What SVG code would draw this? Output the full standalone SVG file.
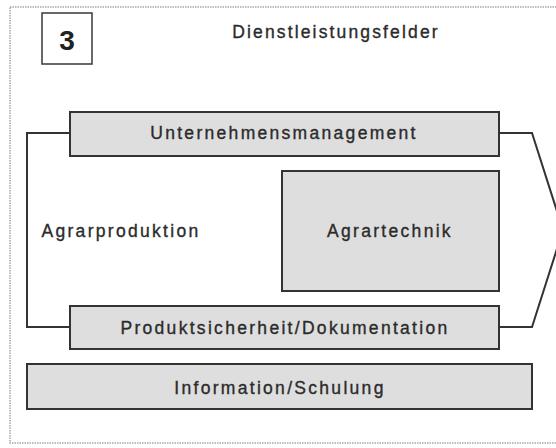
<svg xmlns="http://www.w3.org/2000/svg" width="556" height="448" viewBox="0 0 556 448">
  <style>
    .box { fill: #dedede; stroke: #333; stroke-width: 2; }
    .lbl { font-family: "Liberation Sans", Arial, sans-serif; font-size: 17.5px; fill: #2b2b2b; stroke: #2b2b2b; stroke-width: 0.35; text-anchor: middle; letter-spacing: 2.3px; }
    .wire { fill: none; stroke: #333; stroke-width: 2; stroke-linejoin: miter; }
  </style>
  <rect width="556" height="448" fill="#ffffff"/>
  <!-- page frame -->
  <rect x="10" y="7" width="560" height="436" fill="none" stroke="#a8a8a8" stroke-width="1.5" stroke-dasharray="1.5 1"/>

  <g id="number">
    <rect x="42" y="13" width="50" height="51" fill="#fff" stroke="#444" stroke-width="1.6"/>
    <text x="67" y="50" font-family="Liberation Sans, Arial, sans-serif" font-size="28" font-weight="bold" fill="#222" text-anchor="middle">3</text>
  </g>

  <g id="title">
    <text x="336" y="38" class="lbl" style="letter-spacing:2.15px">Dienstleistungsfelder</text>
  </g>

  <g id="connectors">
    <polyline class="wire" points="70,133 27,133 27,327 70,327"/>
    <polyline class="wire" points="499,133 532,133 563,230 532,327 499,327"/>
  </g>

  <g id="unternehmensmanagement">
    <rect class="box" x="70" y="112" width="429" height="44"/>
    <text class="lbl" x="284" y="139">Unternehmensmanagement</text>
  </g>

  <g id="agrarproduktion">
    <text class="lbl" x="121" y="237">Agrarproduktion</text>
  </g>

  <g id="agrartechnik">
    <rect class="box" x="282" y="171" width="217" height="120"/>
    <text class="lbl" x="390" y="237">Agrartechnik</text>
  </g>

  <g id="produktsicherheit">
    <rect class="box" x="70" y="306" width="429" height="43"/>
    <text class="lbl" x="285" y="334">Produktsicherheit/Dokumentation</text>
  </g>

  <g id="information">
    <rect class="box" x="27" y="364" width="505" height="45"/>
    <text class="lbl" x="280" y="394">Information/Schulung</text>
  </g>
</svg>
